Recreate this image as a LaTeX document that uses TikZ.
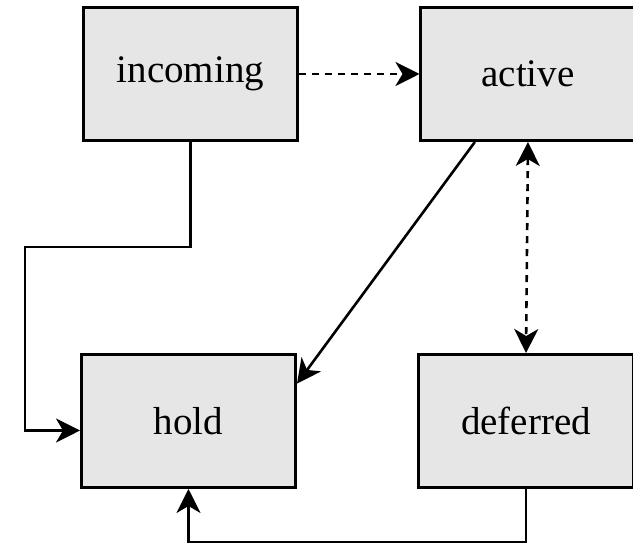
\documentclass[tikz,border=0pt]{standalone}
\usepackage{fontspec}
\setmainfont{Liberation Serif}
\usetikzlibrary{positioning,arrows.meta}
\definecolor{boxgray}{HTML}{E6E6E6}
\tikzset{
  state/.style={draw, line width=1.4pt, fill=boxgray, minimum width=107.1pt,
    minimum height=66.6pt, inner sep=0pt, font=\fontsize{19.5}{22}\selectfont},
  conn/.style={line width=1.3pt, -{Stealth[length=12pt,width=12pt,inset=3.5pt]}},
  dashconn/.style={conn, dash pattern=on 3.5pt off 3pt}
}
\begin{document}
\begin{tikzpicture}[node distance=105.5pt and 60.25pt]
\useasboundingbox (-95.25pt,37pt) rectangle (221.25pt,-235.5pt);
\node[state](incoming){incoming};
\node[state, right=of incoming](active){active};
\node[state, below=of incoming, xshift=-1pt](hold){hold};
\node[state, right=of hold](deferred){deferred};
\coordinate[left=27.5pt of hold.185](bend);
\draw[dashconn] (incoming) -- (active);
\draw[dashconn, {Stealth[length=12pt,width=12pt,inset=3.5pt]}-{Stealth[length=12pt,width=12pt,inset=3.5pt]}]
 (active.south) -- (deferred.north);
\draw[conn] (active.232) -- (hold.19);
\draw[conn] (incoming.south) -- ++(0,-52.5pt) -| (bend) -- (hold.185);
\draw[conn] (deferred.south) -- ++(0,-26.5pt) -| (hold.south);
\end{tikzpicture}
\end{document}
